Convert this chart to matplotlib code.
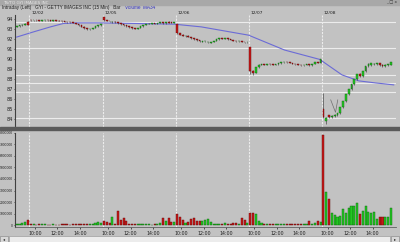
import matplotlib
matplotlib.use("Agg")
import matplotlib.pyplot as plt
from matplotlib.patches import Rectangle
import numpy as np

# ---------------- data ----------------
day_labels = ["12/01", "12/02", "12/05", "12/06", "12/07", "12/08"]
bars_per_day = [5, 26, 26, 26, 26, 25]
time_labels = ["10:00", "12:00", "14:00"]
time_offsets = [2, 10, 18]          # bars after the day open

opens = [93.25, 93.30, 93.40, 93.45, 93.75,
         93.95, 93.90, 93.92, 93.90, 93.88, 93.90, 93.92, 93.90, 93.88, 93.90, 93.88, 93.85, 93.82,
         93.75, 93.72, 93.70, 93.65, 93.55, 93.40, 93.25, 93.10, 93.00, 93.05, 93.15, 93.30, 93.40,
         94.20, 93.90, 93.85, 93.72, 93.78, 93.70, 93.60, 93.50, 93.40, 93.30, 93.20, 93.10, 93.05,
         93.15, 93.30, 93.45, 93.55, 93.55, 93.60, 93.55, 93.65, 93.70, 93.60, 93.75, 93.70, 93.65,
         93.50, 92.60, 92.45, 92.30, 92.38, 92.25, 92.10, 92.00, 91.90, 91.75, 91.80, 91.70, 91.65,
         91.72, 91.85, 92.00, 92.10, 92.05, 92.10, 92.00, 91.95, 91.85, 91.80, 91.85, 91.75, 91.70,
         91.20, 88.85, 88.65, 89.20, 89.45, 89.50, 89.45, 89.55, 89.50, 89.45, 89.50, 89.60, 89.70,
         89.75, 89.70, 89.65, 89.55, 89.50, 89.45, 89.40, 89.45, 89.50, 89.40, 89.55, 89.70, 89.65,
         85.00, 83.80, 84.40, 84.20, 84.30, 84.40, 84.60, 85.20, 85.80, 86.50, 87.00, 87.50, 88.00,
         88.50, 88.30, 88.80, 89.30, 89.40, 89.50, 89.50, 89.60, 89.45, 89.30, 89.40, 89.45]
closes = [93.30, 93.40, 93.45, 93.55, 93.45,
          93.90, 93.92, 93.90, 93.88, 93.90, 93.92, 93.90, 93.88, 93.90, 93.88, 93.85, 93.82, 93.75,
          93.72, 93.70, 93.65, 93.55, 93.40, 93.25, 93.10, 93.00, 93.05, 93.15, 93.30, 93.40, 93.50,
          93.90, 93.85, 93.80, 93.78, 93.70, 93.60, 93.50, 93.40, 93.30, 93.20, 93.10, 93.05, 93.15,
          93.30, 93.45, 93.55, 93.55, 93.60, 93.55, 93.65, 93.70, 93.60, 93.70, 93.65, 93.65, 93.75,
          92.60, 92.45, 92.35, 92.38, 92.25, 92.10, 92.00, 91.90, 91.80, 91.80, 91.85, 91.75, 91.72,
          91.85, 92.00, 92.10, 92.05, 92.10, 92.00, 91.95, 91.85, 91.80, 91.85, 91.75, 91.70, 91.75,
          88.80, 88.65, 89.20, 89.45, 89.50, 89.45, 89.55, 89.50, 89.45, 89.50, 89.60, 89.70, 89.75,
          89.70, 89.65, 89.55, 89.50, 89.45, 89.40, 89.45, 89.50, 89.40, 89.55, 89.70, 89.65, 90.00,
          84.20, 84.10, 84.20, 84.35, 84.45, 84.60, 85.20, 85.80, 86.50, 87.00, 87.50, 88.00, 88.50,
          88.30, 88.80, 89.30, 89.55, 89.60, 89.55, 89.60, 89.40, 89.30, 89.45, 89.50, 89.70]
highs = [93.35, 93.45, 93.55, 93.60, 93.80,
         93.98, 93.95, 93.95, 93.93, 93.93, 93.95, 93.95, 93.93, 93.93, 93.93, 93.90, 93.88, 93.85,
         93.78, 93.75, 93.73, 93.68, 93.58, 93.45, 93.30, 93.15, 93.08, 93.18, 93.33, 93.45, 93.55,
         94.25, 93.93, 93.88, 93.83, 93.82, 93.73, 93.63, 93.53, 93.43, 93.33, 93.23, 93.13, 93.18,
         93.33, 93.48, 93.58, 93.60, 93.63, 93.63, 93.68, 93.73, 93.73, 93.73, 93.80, 93.73, 93.78,
         93.55, 92.65, 92.50, 92.42, 92.40, 92.28, 92.13, 92.03, 91.93, 91.83, 91.88, 91.78, 91.75,
         91.88, 92.03, 92.13, 92.13, 92.13, 92.13, 92.03, 91.98, 91.88, 91.88, 91.88, 91.78, 91.78,
         91.25, 88.90, 89.25, 89.50, 89.55, 89.55, 89.58, 89.58, 89.53, 89.53, 89.63, 89.73, 89.78,
         89.78, 89.73, 89.68, 89.58, 89.53, 89.48, 89.48, 89.53, 89.53, 89.58, 89.73, 89.73, 90.05,
         86.60, 84.20, 84.45, 84.40, 84.50, 84.65, 85.25, 85.85, 86.55, 87.05, 87.55, 88.05, 88.55,
         88.60, 88.85, 89.35, 89.60, 89.65, 89.62, 89.65, 89.65, 89.50, 89.50, 89.55, 89.75]
lows = [93.20, 93.25, 93.35, 93.40, 93.40,
        93.87, 93.87, 93.87, 93.85, 93.85, 93.87, 93.87, 93.85, 93.85, 93.85, 93.82, 93.78, 93.72,
        93.68, 93.67, 93.62, 93.52, 93.37, 93.22, 93.05, 92.95, 92.97, 93.02, 93.12, 93.27, 93.37,
        93.87, 93.82, 93.77, 93.69, 93.67, 93.57, 93.47, 93.37, 93.27, 93.17, 93.07, 93.00, 93.02,
        93.12, 93.27, 93.42, 93.52, 93.52, 93.52, 93.52, 93.62, 93.57, 93.57, 93.62, 93.62, 93.62,
        92.55, 92.40, 92.30, 92.27, 92.22, 92.07, 91.97, 91.87, 91.77, 91.72, 91.77, 91.67, 91.62,
        91.70, 91.82, 91.97, 92.02, 92.02, 91.97, 91.92, 91.82, 91.77, 91.77, 91.72, 91.67, 91.67,
        88.50, 88.40, 88.60, 89.15, 89.42, 89.42, 89.42, 89.47, 89.42, 89.42, 89.47, 89.57, 89.67,
        89.67, 89.62, 89.52, 89.47, 89.42, 89.37, 89.37, 89.42, 89.37, 89.37, 89.52, 89.62, 89.62,
        84.10, 83.50, 84.10, 84.15, 84.25, 84.35, 84.55, 85.15, 85.75, 86.45, 86.95, 87.45, 87.95,
        88.25, 88.25, 88.75, 89.25, 89.35, 89.45, 89.45, 89.35, 89.25, 89.25, 89.35, 89.40]

volume_m = [0.12, 0.15, 0.20, 0.30, 0.45,
            0.10, 0.08, 0.06, 0.10, 0.12, 0.07, 0.06, 0.05, 0.08, 0.06, 0.05, 0.10, 0.15,
            0.08, 0.06, 0.07, 0.10, 0.12, 0.10, 0.08, 0.10, 0.12, 0.15, 0.20, 0.25, 0.18,
            0.35, 0.30, 0.20, 0.70, 0.15, 1.20, 0.45, 0.60, 0.35, 0.10, 0.08, 0.10, 0.12,
            0.15, 0.10, 0.08, 0.12, 0.06, 0.10, 0.08, 0.20, 0.60, 0.40, 0.65, 0.30, 0.25,
            0.95, 0.70, 0.45, 0.20, 0.30, 0.55, 0.60, 0.40, 0.40, 0.40, 0.45, 0.50, 0.30,
            0.15, 0.10, 0.12, 0.15, 0.18, 0.10, 0.12, 0.20, 0.20, 0.10, 0.60, 0.45, 0.20,
            1.10, 1.05, 0.95, 0.35, 0.20, 0.15, 0.12, 0.10, 0.10, 0.15, 0.12, 0.08, 0.10,
            0.12, 0.08, 0.10, 0.15, 0.10, 0.12, 0.08, 0.15, 0.35, 0.12, 0.20, 0.35, 0.25,
            7.80, 2.90, 2.30, 1.10, 0.90, 0.75, 0.80, 1.40, 1.10, 1.45, 1.70, 1.70, 1.95,
            0.95, 1.25, 1.70, 1.15, 1.10, 1.15, 0.50, 0.70, 0.70, 0.70, 0.75, 1.50]

# MA34 line (bar index, price)
ma_idx = [0, 6, 12, 16.6, 21.6, 30, 56, 65.6, 82.4, 95.2, 107.7, 115.6, 121.6, 127.4, 134]
ma_val = [92.24, 92.76, 93.26, 93.60, 93.66, 93.66, 93.53, 93.26, 92.43, 90.94, 90.00,
          88.45, 87.85, 87.65, 87.45]

# user-drawn horizontal levels
levels = [93.73, 91.14, 88.45, 87.65, 86.75, 84.16]
# hand-drawn "V" mark on the last day
mark_idx = [111.6, 113.3, 114.1]
mark_val = [85.95, 84.70, 85.95]

price_ticks = [84, 85, 86, 87, 88, 89, 90, 91, 92, 93, 94]
vol_ticks_m = [0, 1, 2, 3, 4, 5, 6, 7, 8]

# ---------------- style ----------------
BG = "#c2c2c2"
RED = "#c81818"
GREEN = "#22c822"
W, H = 400, 242
SMALL = ["Liberation Sans", "DejaVu Sans"]

fig = plt.figure(figsize=(4.0, 2.42), dpi=100, facecolor=BG)

def fx(px):
    return px / W

def fy(py):
    return 1 - py / H

axp = fig.add_axes([fx(15), fy(127), fx(381), 112 / H])
axv = fig.add_axes([fx(15), fy(227), fx(381), 94.3 / H], sharex=axp)

o = np.array(opens); c = np.array(closes)
hi = np.array(highs); lo = np.array(lows)
x = np.arange(len(o))
up = c >= o
cols = np.where(up, GREEN, RED)
edges = np.where(up, "#106010", "#600808")

for ax in (axp, axv):
    ax.set_facecolor(BG)
    for s in ("top", "right"):
        ax.spines[s].set_visible(False)
    ax.spines["left"].set_color("#404040")
    ax.spines["left"].set_linewidth(0.8)
    ax.tick_params(axis="y", length=1.0, width=0.5, pad=0.4, colors="#202020")
axp.tick_params(axis="y", labelsize=3.6)
axp.spines["bottom"].set_visible(False)
axv.spines["bottom"].set_color("#606060")
axv.spines["bottom"].set_linewidth(0.6)

# day separators
bounds = np.cumsum(bars_per_day)[:-1] - 0.5
starts = np.concatenate([[-0.5], bounds])
for ax in (axp, axv):
    for b in bounds:
        ax.axvline(b, color="#ececec", lw=0.8, ls=(0, (2, 1)), zorder=1)

# horizontal levels
for lv in levels:
    axp.axhline(lv, color="#ececec", lw=0.8, zorder=1)

# candles
axp.vlines(x, lo, hi, color="#303030", lw=0.4, zorder=3)
body_lo = np.minimum(o, c)
body_h = np.maximum(np.abs(c - o), 0.04)
axp.bar(x, body_h, bottom=body_lo, width=0.62, color=cols, edgecolor=edges,
        linewidth=0.3, zorder=4)

# MA line
axp.plot(ma_idx, ma_val, color="#6b6bd6", lw=0.8, zorder=2)
# hand mark
axp.plot(mark_idx, mark_val, color="#707070", lw=0.5, zorder=5)

axp.set_ylim(83.23, 94.45)
axp.set_yticks(price_ticks)
axp.set_yticklabels([str(t) for t in price_ticks])
axp.set_xlim(-0.6, 134.8)
axp.tick_params(axis="x", bottom=False, labelbottom=False)

for lab, s in zip(day_labels[1:], bounds):
    axp.text(s + 0.6, 1.0, lab, transform=axp.get_xaxis_transform(),
             fontsize=3.2, color="#202020", va="bottom", ha="left")

# volume
vol = np.array(volume_m) * 1e6
axv.bar(x, vol, width=0.74, color=cols, edgecolor=edges, linewidth=0.3, zorder=3)
axv.set_ylim(-0.15e6, 8.0e6)
axv.set_yticks([v * 1e6 for v in vol_ticks_m])
axv.set_yticklabels([str(int(v * 1e6)) for v in vol_ticks_m], family=SMALL, fontsize=2.4)

tick_pos, tick_lab = [], []
for s, n in zip(starts[1:], bars_per_day[1:]):
    for lab, off in zip(time_labels, time_offsets):
        tick_pos.append(s + off)
        tick_lab.append(lab)
axv.set_xticks(tick_pos)
axv.set_xticklabels(tick_lab)
axv.tick_params(axis="x", labelsize=3.4, length=1.5, width=0.5, pad=1.2, colors="#202020")

# divider between panels
fig.patches.append(Rectangle((0, fy(130)), 1, 3 / H, transform=fig.transFigure,
                             color="#5a5a5a", zorder=0))
# title bar
fig.patches.append(Rectangle((0, fy(5)), 1, 5 / H, transform=fig.transFigure,
                             color="#a8a8a8", zorder=0))
fig.text(fx(3), fy(2.6), "TS/TO GYI IMAGES INC", fontsize=3.0, color="#e8e8e8",
         va="center", ha="left")
fig.text(fx(397), fy(2.6), "_ \u25a1 x", fontsize=3.0, color="#303030",
         va="center", ha="right")
# header line
t1 = fig.text(fx(2), fy(7.8), "Intraday (Left)   GYI - GETTY IMAGES INC (15 Min)   Bar",
              fontsize=3.3, family=SMALL, color="#202020", va="center", ha="left")
plt.annotate("Volume  MA34", xy=(1, 0.5), xycoords=t1, xytext=(3, 0),
             textcoords="offset points", fontsize=3.3, family=SMALL,
             color="#3030c0", va="center", ha="left", annotation_clip=False)

# scrollbar
fig.patches.append(Rectangle((fx(9), fy(242)), fx(381), 6 / H, transform=fig.transFigure,
                             facecolor="#ececec", edgecolor="#909090", lw=0.4, zorder=0))
fig.patches.append(Rectangle((0, fy(242)), fx(8), 6 / H, transform=fig.transFigure,
                             facecolor="#d8d8d8", edgecolor="#808080", lw=0.4, zorder=0))
fig.patches.append(Rectangle((fx(391), fy(242)), fx(8), 6 / H, transform=fig.transFigure,
                             facecolor="#d8d8d8", edgecolor="#808080", lw=0.4, zorder=0))
fig.text(fx(4), fy(239), "\u25c2", fontsize=3.0, color="#202020", va="center", ha="center")
fig.text(fx(395), fy(239), "\u25b8", fontsize=3.0, color="#202020", va="center", ha="center")

fig.savefig("out.png", dpi=100, facecolor=BG)
